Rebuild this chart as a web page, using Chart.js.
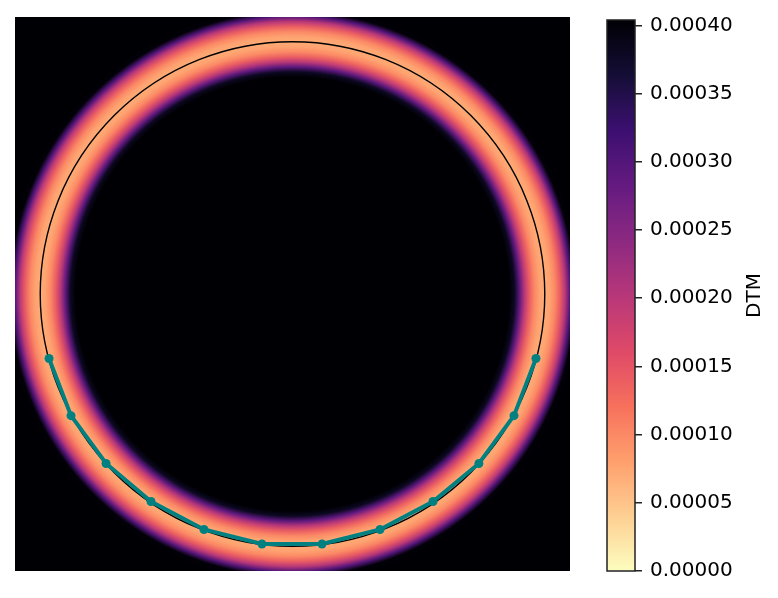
<!DOCTYPE html>
<html>
<head>
<meta charset="utf-8">
<script src="https://cdn.jsdelivr.net/npm/chart.js@4"></script>
<style>
  body { margin: 0; background: #fff; }
  #wrap { position: relative; width: 778px; height: 598px; }
  #main { position: absolute; left: 0; top: 0; }
  #cbar { position: absolute; left: 590px; top: 0; }
</style>
</head>
<body>
<div id="wrap">
  <canvas id="main" width="590" height="598"></canvas>
  <canvas id="cbar" width="188" height="598"></canvas>
</div>
<script>
// sampled points (on the bottom of the unit circle)
const ptX = [-0.965, -0.878, -0.739, -0.561, -0.351, -0.121, 0.117, 0.347, 0.557, 0.739, 0.878, 0.965];
const ptY = [-0.256, -0.483, -0.673, -0.824, -0.935, -0.993, -0.993, -0.935, -0.824, -0.673, -0.483, -0.256];

// reference circle
const circleR = 1.0;

// DTM profile across the ring: radius offset from circle -> DTM value
const ringOffset = [-0.14, -0.12, -0.10, -0.08, -0.06, -0.04, -0.02, 0, 0.02, 0.04, 0.06, 0.08, 0.10, 0.12, 0.14];
const ringDTM = [0.00046, 0.00038, 0.00029, 0.0002, 0.00014, 0.0001, 0.000078, 0.00007, 0.000078, 0.0001, 0.00014, 0.0002, 0.0003, 0.0004, 0.00048];

// colorbar
const dtmMin = 0;
const dtmMax = 0.000404;
const cbTicks = [0, 0.00005, 0.0001, 0.00015, 0.0002, 0.00025, 0.0003, 0.00035, 0.0004];

// magma colormap samples (t = 0..1)
const magma = [[0,0,4],[20,14,54],[59,15,112],[100,26,128],[140,41,129],[183,55,121],
               [222,73,104],[247,112,92],[254,159,109],[254,207,146],[252,253,191]];

function colorFor(v) {
  // reversed magma: 0 -> light, max -> black
  let t = 1 - (v - dtmMin) / (dtmMax - dtmMin);
  t = Math.max(0, Math.min(1, t));
  const p = t * (magma.length - 1);
  const i = Math.min(Math.floor(p), magma.length - 2);
  const f = p - i;
  const a = magma[i], b = magma[i + 1];
  const c = a.map((x, k) => Math.round(x + (b[k] - x) * f));
  return 'rgb(' + c.join(',') + ')';
}

const fontFam = "'DejaVu Sans', sans-serif";

const ringPlugin = {
  id: 'ring',
  beforeDatasetsDraw(chart) {
    const ctx = chart.ctx;
    const a = chart.chartArea;
    const xs = chart.scales.x, ys = chart.scales.y;
    const cx = xs.getPixelForValue(0), cy = ys.getPixelForValue(0);
    const pxPerUnit = xs.getPixelForValue(1) - cx;
    ctx.save();
    ctx.beginPath();
    ctx.rect(a.left, a.top, a.right - a.left, a.bottom - a.top);
    ctx.clip();
    ctx.fillStyle = '#000004';
    ctx.fillRect(a.left, a.top, a.right - a.left, a.bottom - a.top);
    const r0 = (circleR + ringOffset[0]) * pxPerUnit;
    const r1 = (circleR + ringOffset[ringOffset.length - 1]) * pxPerUnit;
    const g = ctx.createRadialGradient(cx, cy, r0, cx, cy, r1);
    for (let i = 0; i < ringOffset.length; i++) {
      const r = (circleR + ringOffset[i]) * pxPerUnit;
      g.addColorStop((r - r0) / (r1 - r0), colorFor(ringDTM[i]));
    }
    ctx.fillStyle = g;
    ctx.fillRect(a.left, a.top, a.right - a.left, a.bottom - a.top);
    ctx.beginPath();
    ctx.arc(cx, cy, circleR * pxPerUnit, 0, Math.PI * 2);
    ctx.strokeStyle = '#000';
    ctx.lineWidth = 1.4;
    ctx.stroke();
    ctx.restore();
  }
};

new Chart(document.getElementById('main'), {
  type: 'scatter',
  data: {
    datasets: [{
      data: ptX.map((x, i) => ({ x: x, y: ptY[i] })),
      showLine: true,
      borderColor: '#008080',
      backgroundColor: '#008080',
      borderWidth: 4,
      pointRadius: 4.5,
      pointBorderWidth: 0,
      pointHoverRadius: 4.5,
      tension: 0
    }]
  },
  options: {
    responsive: false,
    animation: false,
    layout: { padding: { left: 15, right: 20, top: 17, bottom: 27 } },
    plugins: { legend: { display: false }, tooltip: { enabled: false } },
    scales: {
      x: { type: 'linear', min: -1.1, max: 1.1, display: false },
      y: { type: 'linear', min: -1.1, max: 1.1, display: false }
    }
  },
  plugins: [ringPlugin]
});

const cbarPlugin = {
  id: 'cbarFrame',
  afterDraw(chart) {
    const ctx = chart.ctx;
    const a = chart.chartArea;
    ctx.save();
    ctx.strokeStyle = '#222';
    ctx.lineWidth = 1.5;
    ctx.strokeRect(a.left, a.top, a.right - a.left, a.bottom - a.top);
    ctx.translate(165, (a.top + a.bottom) / 2);
    ctx.rotate(-Math.PI / 2);
    ctx.fillStyle = '#000';
    ctx.font = '20px ' + fontFam;
    ctx.textAlign = 'center';
    ctx.textBaseline = 'middle';
    ctx.fillText('DTM', 0, 0);
    ctx.restore();
  }
};

new Chart(document.getElementById('cbar'), {
  type: 'bar',
  data: {
    labels: [''],
    datasets: [{
      data: [[dtmMin, dtmMax]],
      barPercentage: 1,
      categoryPercentage: 1,
      borderWidth: 0,
      backgroundColor(c) {
        const a = c.chart.chartArea;
        if (!a) return '#000';
        const ys = c.chart.scales.y;
        const g = c.chart.ctx.createLinearGradient(0, ys.getPixelForValue(dtmMin), 0, ys.getPixelForValue(dtmMax));
        for (let i = 0; i <= 20; i++) {
          g.addColorStop(i / 20, colorFor(dtmMin + (dtmMax - dtmMin) * i / 20));
        }
        return g;
      }
    }]
  },
  options: {
    responsive: false,
    animation: false,
    layout: { padding: { left: 17, right: 0, top: 16, bottom: 27 } },
    plugins: { legend: { display: false }, tooltip: { enabled: false } },
    scales: {
      x: { display: false },
      y: {
        position: 'right',
        min: dtmMin,
        max: dtmMax,
        afterFit(s) { s.width = 143; },
        afterBuildTicks(s) { s.ticks = cbTicks.map(v => ({ value: v })); },
        border: { display: false },
        grid: { drawOnChartArea: false, drawTicks: true, tickLength: 7, color: '#222', lineWidth: 1.5 },
        ticks: {
          autoSkip: false,
          padding: 8,
          color: '#000',
          font: { family: fontFam, size: 20 },
          callback: v => v.toFixed(5)
        }
      }
    }
  },
  plugins: [cbarPlugin]
});
</script>
</body>
</html>
